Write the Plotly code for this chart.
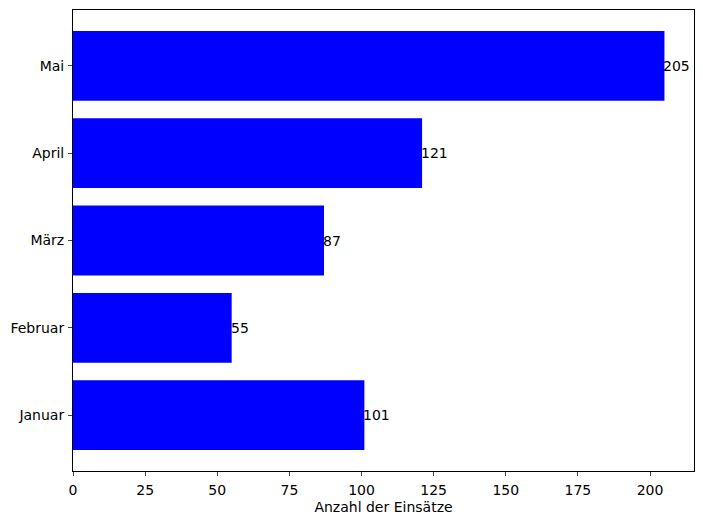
import plotly.graph_objects as go

months = ["Januar", "Februar", "März", "April", "Mai"]
counts = [101, 55, 87, 121, 205]
x_ticks = [0, 25, 50, 75, 100, 125, 150, 175, 200]

fig = go.Figure()
fig.add_trace(go.Bar(
    x=counts, y=list(range(len(months))), orientation="h",
    width=0.8, marker=dict(color="#0000ff", line=dict(width=0)),
    hoverinfo="x+y",
))

for i, v in enumerate(counts):
    fig.add_annotation(x=v, y=i, text=str(v), showarrow=False,
                       xanchor="left", yanchor="middle", xshift=-2,
                       borderpad=0,
                       font=dict(family="DejaVu Sans", size=14, color="black"))

fig.update_layout(
    width=695, height=517,
    margin=dict(l=65, r=9, t=2, b=54),
    plot_bgcolor="white", paper_bgcolor="white",
    font=dict(family="DejaVu Sans", size=14, color="black"),
    showlegend=False,
    xaxis=dict(range=[0, 215.25], tickvals=x_ticks, ticks="outside", ticklen=4,
               tickfont=dict(size=14), ticklabelstandoff=2,
               showgrid=False, zeroline=False, showline=True, mirror=True,
               linecolor="black", linewidth=1,
               title=dict(text="Anzahl der Einsätze", standoff=5,
                          font=dict(size=14))),
    yaxis=dict(range=[-0.64, 4.64], tickvals=list(range(len(months))),
               ticktext=months, ticks="outside", ticklen=4,
               tickfont=dict(size=14), ticklabelstandoff=1,
               showgrid=False, zeroline=False, showline=True, mirror=True,
               linecolor="black", linewidth=1),
)

fig.write_html("out.html")
